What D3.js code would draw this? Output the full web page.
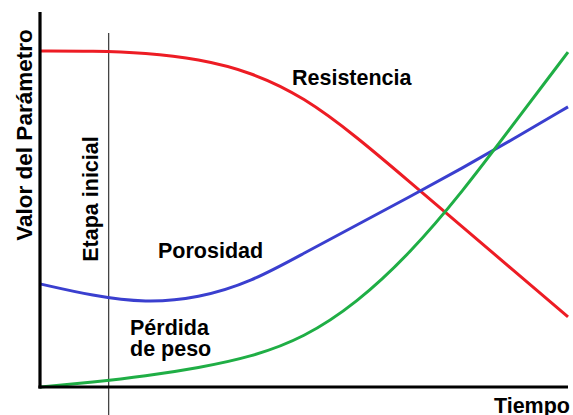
<!DOCTYPE html>
<html>
<head>
<meta charset="utf-8">
<script src="https://cdn.jsdelivr.net/npm/d3@7"></script>
<style>
  body { margin: 0; background: #fff; }
  text { font-family: "Liberation Sans", Arial, sans-serif; font-weight: bold; fill: #000; }
</style>
</head>
<body>
<svg id="chart" width="573" height="415"></svg>
<script>
// time steps 0..10, values 0..100
const tiempo = [0, 1, 2, 3, 4, 5, 6, 7, 8, 9, 10];
const resistencia = [89.6, 89.6, 89.1, 87.5, 84.0, 77.3, 66.7, 54.7, 42.7, 30.7, 18.7];
const porosidad = [27.5, 24.3, 22.4, 23.7, 28.0, 35.7, 43.2, 50.7, 58.4, 66.4, 74.7];
const perdida = [0, 1.3, 2.9, 5.1, 8.0, 13.1, 22.4, 35.5, 52.0, 70.7, 89.3];
const etapaInicial = 1.3;

const svg = d3.select("#chart");

const x = d3.scaleLinear().domain([0, 10]).range([40, 568]);
const y = d3.scaleLinear().domain([0, 100]).range([387, 12]);

const line = d3.line()
  .x((d, i) => x(tiempo[i]))
  .y(d => y(d))
  .curve(d3.curveBasis);

// stage marker
svg.append("line")
  .attr("x1", x(etapaInicial)).attr("x2", x(etapaInicial))
  .attr("y1", 33).attr("y2", 415)
  .attr("stroke", "#444")
  .attr("stroke-width", 1.3);

const series = [
  { values: resistencia, color: "#ed1c24" },
  { values: porosidad, color: "#3a3fcf" },
  { values: perdida, color: "#1fae45" }
];

series.forEach(s => {
  svg.append("path")
    .datum(s.values)
    .attr("fill", "none")
    .attr("stroke", s.color)
    .attr("stroke-width", 3)
    .attr("d", line);
});

// axes
svg.append("line")
  .attr("x1", 40).attr("x2", 40)
  .attr("y1", y(100)).attr("y2", y(0) + 1.5)
  .attr("stroke", "#000").attr("stroke-width", 3.2);
svg.append("line")
  .attr("x1", 38.4).attr("x2", x(10))
  .attr("y1", y(0)).attr("y2", y(0))
  .attr("stroke", "#000").attr("stroke-width", 3.2);

// labels
svg.append("text")
  .attr("transform", "translate(32,135) rotate(-90)")
  .attr("text-anchor", "middle")
  .attr("font-size", 22.5)
  .text("Valor del Parámetro");

svg.append("text")
  .attr("transform", "translate(98,199) rotate(-90)")
  .attr("text-anchor", "middle")
  .attr("font-size", 21.5)
  .text("Etapa inicial");

svg.append("text").attr("x", 292).attr("y", 85).attr("font-size", 21.5).text("Resistencia");
svg.append("text").attr("x", 158).attr("y", 258).attr("font-size", 21.5).text("Porosidad");
svg.append("text").attr("x", 130).attr("y", 335).attr("font-size", 21.5).text("Pérdida");
svg.append("text").attr("x", 130).attr("y", 356).attr("font-size", 21.5).text("de peso");
svg.append("text").attr("x", 570).attr("y", 413).attr("text-anchor", "end").attr("font-size", 21.5).text("Tiempo");
</script>
</body>
</html>
